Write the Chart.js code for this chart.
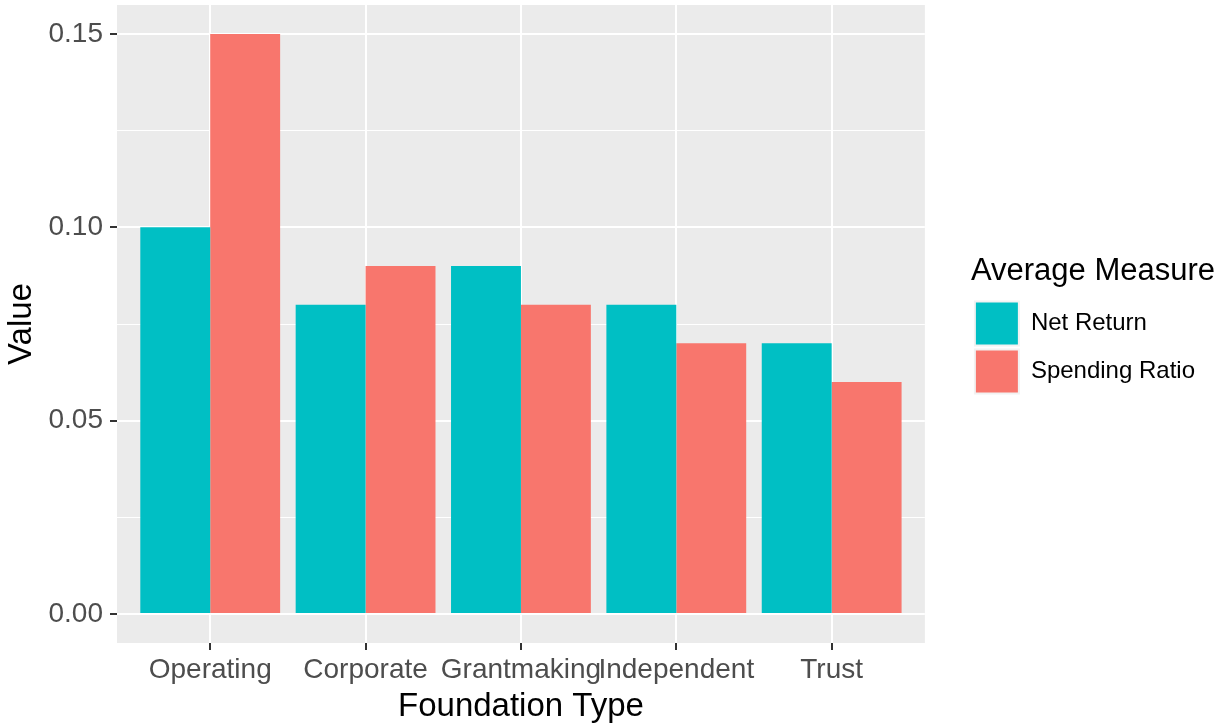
<!DOCTYPE html>
<html>
<head>
<meta charset="utf-8">
<script src="https://cdn.jsdelivr.net/npm/chart.js@4"></script>
<style>
    body { margin: 0; background: #fff; }
    #wrap { width: 1223px; height: 727px; position: relative; }
</style>
</head>
<body>
<div id="wrap"><canvas id="myChart"></canvas></div>
<script>
const foundationTypes = ['Operating', 'Corporate', 'Grantmaking', 'Independent', 'Trust'];
const netReturn = [0.10, 0.08, 0.09, 0.08, 0.07];
const spendingRatio = [0.15, 0.09, 0.08, 0.07, 0.06];
const yTicks = [0, 0.025, 0.05, 0.075, 0.10, 0.125, 0.15];

const tealColor = '#00BFC4';
const redColor = '#F8766D';

// grey ggplot panel behind everything
const panelBackground = {
    id: 'panelBackground',
    beforeDraw(chart) {
        const {ctx, chartArea} = chart;
        ctx.save();
        ctx.fillStyle = '#EBEBEB';
        ctx.fillRect(chartArea.left, chartArea.top, chartArea.width, chartArea.height);
        ctx.restore();
    }
};

// push the legend a bit away from the panel and center it on the panel
const legendNudge = {
    id: 'legendNudge',
    afterLayout(chart) {
        const legend = chart.legend;
        if (!legend) return;
        const dx = 46;
        legend.left += dx;
        legend.right += dx + 20; // room so the title is not clipped
        legend.width = legend.right - legend.left;
        const area = chart.chartArea;
        const panelMid = (area.top + area.bottom) / 2;
        const dy = panelMid - 363;
        legend.top += dy;
        legend.bottom += dy;
    }
};

function toPoints(values) {
    return values.map((v, i) => ({x: i, y: v}));
}

const ctx = document.getElementById('myChart');

new Chart(ctx, {
    type: 'bar',
    data: {
        datasets: [{
            label: 'Net Return',
            data: toPoints(netReturn),
            backgroundColor: tealColor,
            borderWidth: 0
        }, {
            label: 'Spending Ratio',
            data: toPoints(spendingRatio),
            backgroundColor: redColor,
            borderWidth: 0
        }]
    },
    options: {
        responsive: true,
        maintainAspectRatio: false,
        animation: false,
        categoryPercentage: 0.9,
        barPercentage: 1.0,
        layout: {
            padding: {top: 5, left: 0, bottom: 0, right: 64}
        },
        scales: {
            x: {
                type: 'linear',
                min: -0.6,
                max: 4.6,
                offset: false,
                afterBuildTicks(scale) {
                    scale.ticks = foundationTypes.map((_, i) => ({value: i}));
                },
                afterFit(scale) {
                    scale.height = 84;
                    scale.paddingLeft = 0;
                    scale.paddingRight = 0;
                },
                grid: {
                    offset: false,
                    color: '#FFFFFF',
                    lineWidth: 2,
                    tickColor: '#333333',
                    tickLength: 7,
                    tickWidth: 2,
                    drawTicks: true
                },
                border: {display: false},
                ticks: {
                    autoSkip: false,
                    maxRotation: 0,
                    padding: 3,
                    color: '#4D4D4D',
                    font: {family: 'Liberation Sans', size: 28},
                    callback: (value) => foundationTypes[value]
                },
                title: {
                    display: true,
                    text: 'Foundation Type',
                    color: '#000000',
                    font: {family: 'Liberation Sans', size: 33},
                    padding: {top: 0, bottom: 0}
                }
            },
            y: {
                min: -0.0075,
                max: 0.1575,
                afterBuildTicks(scale) {
                    scale.ticks = yTicks.map(v => ({value: v}));
                },
                afterFit(scale) {
                    scale.width = 117;
                    scale.paddingTop = 0;
                    scale.paddingBottom = 0;
                },
                grid: {
                    color: '#FFFFFF',
                    lineWidth: (c) => c.index % 2 === 0 ? 2 : 1,
                    tickColor: (c) => c.index % 2 === 0 ? '#333333' : 'rgba(0,0,0,0)',
                    tickLength: 7,
                    tickWidth: 2
                },
                border: {display: false},
                ticks: {
                    padding: 7,
                    color: '#4D4D4D',
                    font: {family: 'Liberation Sans', size: 28},
                    callback: (value, index) => index % 2 === 0 ? value.toFixed(2) : ''
                },
                title: {
                    display: true,
                    text: 'Value',
                    color: '#000000',
                    font: {family: 'Liberation Sans', size: 33},
                    padding: {top: 2, bottom: 0}
                }
            }
        },
        plugins: {
            tooltip: {enabled: false},
            legend: {
                position: 'right',
                align: 'center',
                title: {
                    display: true,
                    text: 'Average Measure',
                    position: 'start',
                    color: '#000000',
                    font: {family: 'Liberation Sans', size: 31},
                    padding: {top: 0, bottom: 4}
                },
                labels: {
                    boxWidth: 44,
                    boxHeight: 44,
                    padding: 4,
                    color: '#000000',
                    font: {family: 'Liberation Sans', size: 24},
                    generateLabels(chart) {
                        const items = Chart.defaults.plugins.legend.labels.generateLabels(chart);
                        items.forEach(item => {
                            item.strokeStyle = '#F2F2F2';
                            item.lineWidth = 2;
                        });
                        return items;
                    }
                }
            }
        }
    },
    plugins: [panelBackground, legendNudge]
});
</script>
</body>
</html>
